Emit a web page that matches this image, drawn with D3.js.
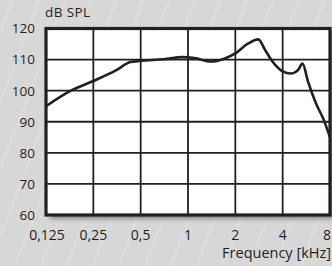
<!DOCTYPE html>
<html>
<head>
<meta charset="utf-8">
<script src="https://cdn.jsdelivr.net/npm/d3@7"></script>
<style>
	html, body { margin: 0; padding: 0; background: #d7d7d8; }
	svg { display: block; }
	text { font-family: 'Open Sans', sans-serif; fill: #231f20; }
</style>
</head>
<body>
<svg id="chart" width="332" height="266"></svg>
<script>
const freqs = [0.125, 0.18, 0.25, 0.35, 0.43, 0.5, 0.7, 0.92, 1.1, 1.4, 1.7, 2, 2.4, 2.8, 3.1, 3.4, 4, 4.5, 5.0, 5.35, 5.8, 6.5, 7.3, 8];
const levels = [95, 100, 103.1, 106.6, 109.2, 109.6, 110.1, 110.8, 110.5, 109.4, 110.3, 112, 115.1, 116.5, 113, 109.8, 106.2, 105.5, 106.6, 108.7, 102.9, 96, 90.6, 85];
const xTicks = [0.125, 0.25, 0.5, 1, 2, 4, 8];
const xTickLabels = ['0,125', '0,25', '0,5', '1', '2', '4', '8'];
const yTicks = [60, 70, 80, 90, 100, 110, 120];

const svg = d3.select('#chart');
const m = { left: 46, right: 330, top: 28.5, bottom: 215 };

const x = d3.scaleLog().base(2).domain([0.125, 8]).range([m.left, m.right]);
const y = d3.scaleLinear().domain([60, 120]).range([m.bottom, m.top]);

// faint diagonal hatch in the background
const defs = svg.append('defs');
const pat = defs.append('pattern')
	.attr('id', 'hatch')
	.attr('patternUnits', 'userSpaceOnUse')
	.attr('width', 26).attr('height', 266)
	.attr('patternTransform', 'skewX(-21)');
pat.append('line')
	.attr('x1', 13).attr('x2', 13).attr('y1', 0).attr('y2', 266)
	.attr('stroke', '#e8e8e8').attr('stroke-width', 0.7);
svg.append('rect').attr('width', 332).attr('height', 266).attr('fill', 'url(#hatch)');

const blur = defs.append('filter').attr('id', 'shadow')
	.attr('x', '-10%').attr('y', '-10%').attr('width', '130%').attr('height', '130%');
blur.append('feGaussianBlur').attr('stdDeviation', 2);

// drop shadow under plot
svg.append('rect')
	.attr('x', m.left + 4).attr('y', m.top + 4)
	.attr('width', m.right - m.left).attr('height', m.bottom - m.top)
	.attr('fill', '#8a8a8a')
	.attr('filter', 'url(#shadow)');

svg.append('rect')
	.attr('x', m.left).attr('y', m.top)
	.attr('width', m.right - m.left).attr('height', m.bottom - m.top)
	.attr('fill', '#fff');

// grid
svg.append('g')
	.selectAll('line')
	.data(xTicks.slice(1, -1))
	.enter()
	.append('line')
	.attr('x1', (d) => x(d)).attr('x2', (d) => x(d))
	.attr('y1', m.top).attr('y2', m.bottom)
	.attr('stroke', '#231f20').attr('stroke-width', 1.8);

svg.append('g')
	.selectAll('line')
	.data(yTicks.slice(1, -1))
	.enter()
	.append('line')
	.attr('x1', m.left).attr('x2', m.right)
	.attr('y1', (d) => y(d)).attr('y2', (d) => y(d))
	.attr('stroke', '#231f20').attr('stroke-width', 1.8);

// response curve
const line = d3.line()
	.x((d) => x(d[0]))
	.y((d) => y(d[1]))
	.curve(d3.curveMonotoneX);

svg.append('clipPath').attr('id', 'plotclip')
	.append('rect')
	.attr('x', m.left).attr('y', m.top)
	.attr('width', m.right - m.left).attr('height', m.bottom - m.top);

svg.append('path')
	.datum(d3.zip(freqs, levels))
	.attr('d', line)
	.attr('clip-path', 'url(#plotclip)')
	.attr('fill', 'none')
	.attr('stroke', '#231f20')
	.attr('stroke-width', 2.6)
	.attr('stroke-linejoin', 'round');

// frame
svg.append('rect')
	.attr('x', m.left).attr('y', m.top)
	.attr('width', m.right - m.left).attr('height', m.bottom - m.top)
	.attr('fill', 'none')
	.attr('stroke', '#231f20').attr('stroke-width', 3.2);

// axis labels
svg.append('g')
	.selectAll('text')
	.data(yTicks)
	.enter()
	.append('text')
	.attr('x', 35)
	.attr('y', (d) => y(d))
	.attr('dy', '0.36em')
	.attr('text-anchor', 'end')
	.style('font-size', '13.5px')
	.text((d) => d);

svg.append('g')
	.selectAll('text')
	.data(xTicks)
	.enter()
	.append('text')
	.attr('x', (d) => (d === 8 ? 331 : x(d) + (d === 0.125 ? 1 : 0)))
	.attr('y', 240)
	.attr('text-anchor', (d) => (d === 8 ? 'end' : 'middle'))
	.style('font-size', '14px')
	.text((d, i) => xTickLabels[i]);

svg.append('text')
	.attr('x', 45).attr('y', 17)
	.style('font-size', '13.5px')
	.style('letter-spacing', '0.4px')
	.text('dB SPL');

svg.append('text')
	.attr('x', 331).attr('y', 258)
	.attr('text-anchor', 'end')
	.style('font-size', '14.5px')
	.text('Frequency [kHz]');
</script>
</body>
</html>
